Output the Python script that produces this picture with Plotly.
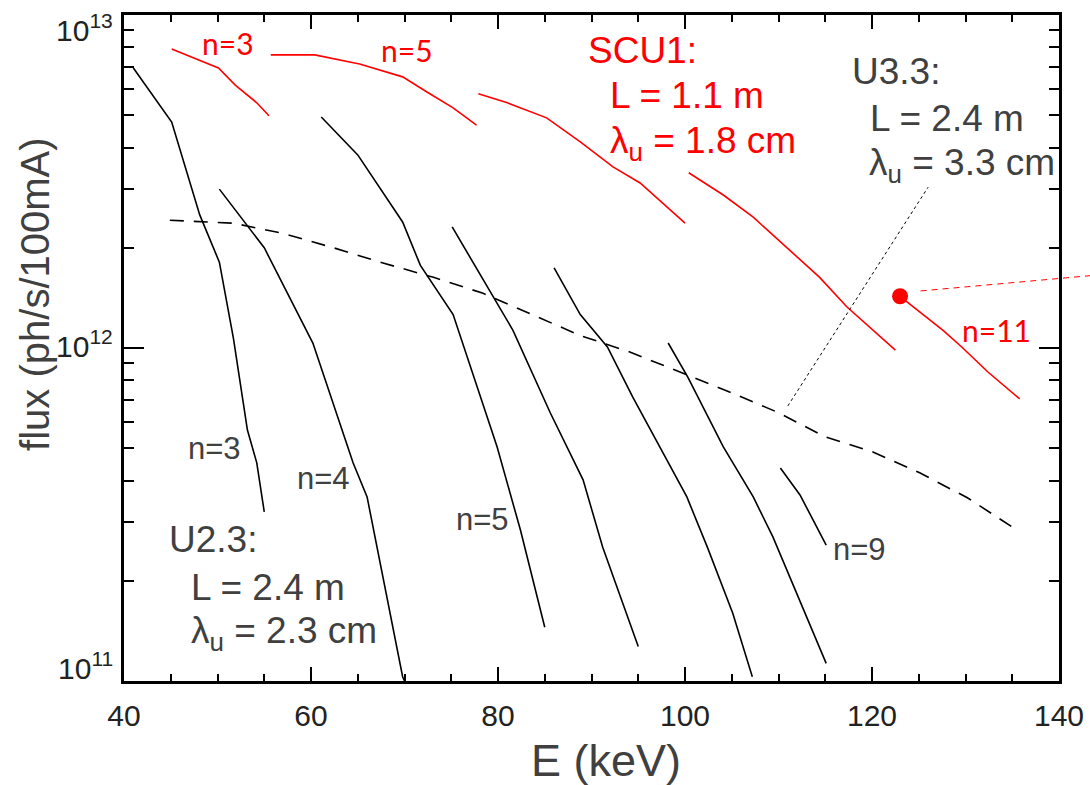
import math
import plotly.graph_objects as go

# ---- U2.3 undulator harmonics (black solid) ----
u23_n3_E = [41.0, 45.1, 48.1, 50.2, 51.7, 53.2, 54.2, 55.0]
u23_n3_F = [6.93e12, 4.77e12, 2.51e12, 1.81e12, 1.07e12, 5.67e11, 4.52e11, 3.22e11]

u23_n4_E = [50.2, 55.0, 60.2, 64.5, 66.0, 68.1, 69.8, 70.0]
u23_n4_F = [3.0e12, 2.0e12, 1.035e12, 4.52e11, 3.57e11, 1.79e11, 1.03e11, 1.0e11]

u23_n5_E = [61.1, 65.0, 69.8, 71.7, 75.2, 79.9, 82.4, 85.0]
u23_n5_F = [4.94e12, 3.80e12, 2.39e12, 1.77e12, 1.26e12, 5.05e11, 2.84e11, 1.45e11]

u23_n6_E = [75.1, 78.1, 81.6, 85.6, 89.1, 91.2, 95.0]
u23_n6_F = [2.31e12, 1.66e12, 1.13e12, 6.38e11, 4.02e11, 2.52e11, 1.27e11]

u23_n7_E = [86.0, 88.8, 91.7, 94.4, 100.2, 102.4, 105.1, 107.2]
u23_n7_F = [1.74e12, 1.26e12, 1.007e12, 7.13e11, 3.57e11, 2.52e11, 1.60e11, 1.03e11]

u23_n8_E = [98.2, 100.3, 104.1, 107.3, 109.4, 115.1]
u23_n8_F = [1.035e12, 8.18e11, 5.05e11, 3.57e11, 2.71e11, 1.13e11]

u23_n9_E = [110.2, 112.3, 115.1]
u23_n9_F = [4.36e11, 3.62e11, 2.56e11]

# ---- U3.3 undulator envelope (black dashed) ----
u33_E = [44.9, 51.7, 57.0, 62.4, 67.7, 73.1, 78.4, 88.8, 94.1, 99.5,
         104.5, 109.8, 115.0, 120.1, 125.1, 130.2, 135.5]
u33_F = [2.42e12, 2.37e12, 2.21e12, 2.0e12, 1.80e12, 1.63e12, 1.46e12, 1.09e12, 9.73e11, 8.47e11,
         7.43e11, 6.43e11, 5.41e11, 4.87e11, 4.22e11, 3.55e11, 2.84e11]

# ---- SCU1 harmonics (red) ----
scu_n3_E = [45.1, 50.1, 51.9, 54.2, 55.5]
scu_n3_F = [7.91e12, 6.93e12, 6.16e12, 5.45e12, 4.98e12]

scu_n5_E = [55.7, 60.4, 65.2, 69.8, 72.4, 75.2, 77.7]
scu_n5_F = [7.59e12, 7.59e12, 7.13e12, 6.52e12, 5.87e12, 5.26e12, 4.67e12]

scu_n7_E = [77.9, 81.0, 85.2, 88.8, 92.3, 95.2, 100.0]
scu_n7_F = [5.80e12, 5.45e12, 4.91e12, 4.16e12, 3.50e12, 3.13e12, 2.37e12]

scu_n9_E = [100.4, 104.1, 107.3, 111.2, 114.4, 117.3, 122.5]
scu_n9_F = [3.36e12, 2.88e12, 2.47e12, 1.97e12, 1.63e12, 1.33e12, 9.86e11]

scu_n11_E = [123.0, 127.6, 129.6, 132.4, 135.8]
scu_n11_F = [1.43e12, 1.13e12, 1.007e12, 8.47e11, 7.03e11]

# highlighted working point on the n=11 harmonic
point_E = [123.0]
point_F = [1.43e12]

# leader line from the U3.3 label to the dashed envelope
leader_E = [111.0, 126.0]
leader_F = [6.70e11, 3.04e12]

x_ticks = [40, 60, 80, 100, 120, 140]
y_ticks = [1e11, 1e12, 1e13]
y_ticktext = ["10<sup>11</sup>", "10<sup>12</sup>", "10<sup>13</sup>"]
y_minor = [m * 10 ** e for e in (11, 12) for m in range(2, 10)]

RED = "#ff0000"
GREY = "#404040"

fig = go.Figure()

black_sets = [(u23_n3_E, u23_n3_F), (u23_n4_E, u23_n4_F), (u23_n5_E, u23_n5_F),
              (u23_n6_E, u23_n6_F), (u23_n7_E, u23_n7_F), (u23_n8_E, u23_n8_F),
              (u23_n9_E, u23_n9_F)]
for e, f in black_sets:
    fig.add_trace(go.Scatter(x=e, y=f, mode="lines",
                             line=dict(color="black", width=1.6), showlegend=False))

fig.add_trace(go.Scatter(x=u33_E, y=u33_F, mode="lines",
                         line=dict(color="black", width=1.6, dash="14px,10px"),
                         showlegend=False))

red_sets = [(scu_n3_E, scu_n3_F), (scu_n5_E, scu_n5_F), (scu_n7_E, scu_n7_F),
            (scu_n9_E, scu_n9_F), (scu_n11_E, scu_n11_F)]
for e, f in red_sets:
    fig.add_trace(go.Scatter(x=e, y=f, mode="lines",
                             line=dict(color=RED, width=1.6), showlegend=False))

fig.add_trace(go.Scatter(x=leader_E, y=leader_F, mode="lines",
                         line=dict(color="black", width=1, dash="3px,3px"),
                         showlegend=False))

fig.add_trace(go.Scatter(x=point_E, y=point_F, mode="markers",
                         marker=dict(color=RED, size=16), showlegend=False,
                         cliponaxis=False))

# red dotted pointer running from the working point out past the right frame
x0p = (point_E[0] + 2.2 - 40) / 100
y0p = (math.log10(point_F[0]) - 11) / 2
fig.add_shape(type="line", xref="paper", yref="paper",
              x0=x0p, y0=y0p + 0.008, x1=1.034, y1=y0p + 0.031,
              line=dict(color=RED, width=1, dash="6px,5px"))

ann = []

def label(text, e, logf, color, size, family, xanchor="center"):
    ann.append(dict(text=text, x=e, y=logf, xref="x", yref="y", showarrow=False,
                    xanchor=xanchor, yanchor="middle",
                    font=dict(color=color, size=size, family=family)))

# SCU1 harmonic labels
label("n=3", 51.1, 12.916, RED, 30, "Lato")
label("n=5", 70.3, 12.895, RED, 30, "Lato")
label("n=11", 133.3, 12.055, RED, 30, "Lato")

# U2.3 harmonic labels
label("n=3", 49.7, 11.697, GREY, 31, "Liberation Sans")
label("n=4", 61.3, 11.607, GREY, 31, "Liberation Sans")
label("n=5", 78.3, 11.486, GREY, 31, "Liberation Sans")
label("n=9", 118.7, 11.396, GREY, 31, "Liberation Sans")

# device descriptions
label("SCU1:", 89.4, 12.892, RED, 37, "Liberation Sans", "left")
label("L = 1.1 m", 91.8, 12.757, RED, 37, "Liberation Sans", "left")
label("λ<sub>u</sub> = 1.8 cm", 91.8, 12.615, RED, 37, "Liberation Sans", "left")

label("U3.3:", 117.6, 12.830, GREY, 37, "Liberation Sans", "left")
label("L = 2.4 m", 119.6, 12.690, GREY, 37, "Liberation Sans", "left")
label("λ<sub>u</sub> = 3.3 cm", 119.5, 12.550, GREY, 37, "Liberation Sans", "left")

label("U2.3:", 44.6, 11.426, GREY, 37, "Liberation Sans", "left")
label("L = 2.4 m", 46.9, 11.282, GREY, 37, "Liberation Sans", "left")
label("λ<sub>u</sub> = 2.3 cm", 46.9, 11.145, GREY, 37, "Liberation Sans", "left")

# decade labels on the flux axis, kept inside the frame's vertical extent at the ends
y_label_anchor = {1e11: ("bottom", -6), 1e12: ("middle", 4), 1e13: ("top", 8)}
for val, txt in zip(y_ticks, y_ticktext):
    anchor, shift = y_label_anchor[val]
    ann.append(dict(text=txt, x=0, y=math.log10(val), xref="paper", yref="y",
                    showarrow=False, xanchor="right", yanchor=anchor,
                    xshift=-9, yshift=shift,
                    font=dict(size=30, color="#222", family="Liberation Sans")))

# axis titles
ann.append(dict(text="flux (ph/s/100mA)", x=-0.095, y=0.58, xref="paper", yref="paper",
                showarrow=False, textangle=-90, xanchor="center", yanchor="middle",
                font=dict(size=40, color=GREY, family="Liberation Sans")))
ann.append(dict(text="E (keV)", x=0.5155, y=-0.119, xref="paper", yref="paper",
                showarrow=False, xanchor="center", yanchor="middle",
                font=dict(size=45, color=GREY, family="Liberation Sans")))

fig.update_layout(
    width=1090, height=785,
    margin=dict(l=124, r=31, t=15, b=104),
    paper_bgcolor="white", plot_bgcolor="white",
    annotations=ann,
    showlegend=False,
)

fig.update_xaxes(
    range=[40, 140], showgrid=False, zeroline=False, automargin=False,
    showline=True, linecolor="black", linewidth=2.5, mirror="allticks",
    ticks="inside", ticklen=14, tickwidth=2, tickcolor="black",
    tickvals=x_ticks, ticktext=[str(v) for v in x_ticks],
    tickfont=dict(size=30, color="#222", family="Liberation Sans"),
    ticklabelstandoff=6, ticklabeloverflow="allow",
    minor=dict(dtick=5, ticks="inside", ticklen=7, tickwidth=2, tickcolor="black"),
)

fig.update_yaxes(
    type="log", range=[11, 13], showgrid=False, zeroline=False, automargin=False,
    showline=True, linecolor="black", linewidth=2.5, mirror="allticks",
    ticks="inside", ticklen=20, tickwidth=2, tickcolor="black",
    tickvals=y_ticks, showticklabels=False,
    minor=dict(tickvals=y_minor, ticks="inside", ticklen=10, tickwidth=2, tickcolor="black"),
)

fig.write_html("out.html")
